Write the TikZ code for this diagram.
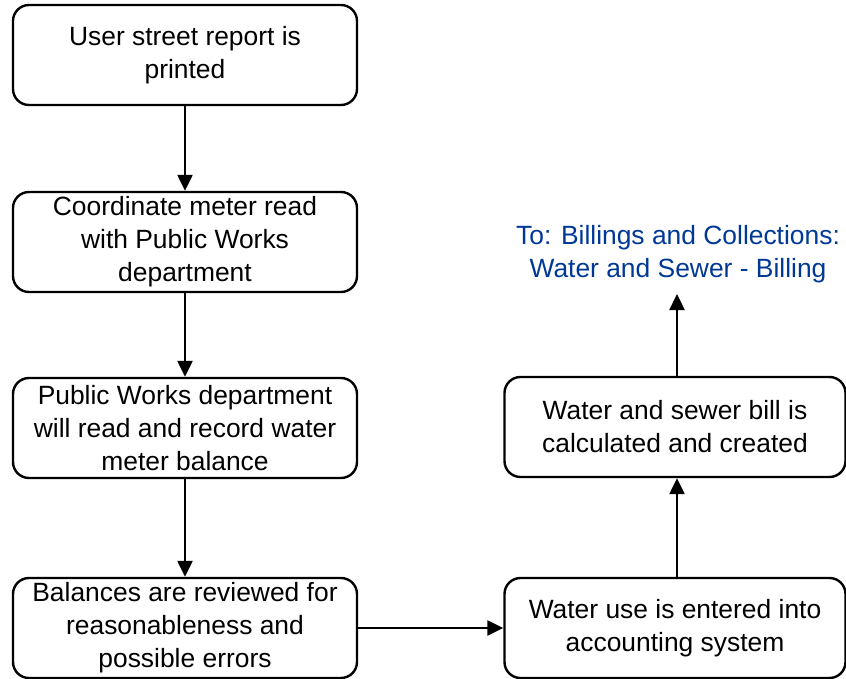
\documentclass[tikz,border=0pt]{standalone}
\usepackage{fontspec}
\setmainfont{Liberation Sans}
\usetikzlibrary{arrows.meta}
\definecolor{linkblue}{RGB}{0,56,150}
\tikzset{
  boxfont/.style={font=\fontsize{26.4}{33}\selectfont},
  stepbox/.style={draw=black, line width=2.4pt, rounded corners=16pt,
    minimum width=344pt, minimum height=100pt, align=center,
    boxfont, inner sep=0pt},
  flow/.style={line width=2.4pt, -{Triangle[length=16pt,width=15pt]}}
}
\begin{document}
\begin{tikzpicture}[x=1pt,y=-1pt]
  \useasboundingbox (0,0) rectangle (846,679);
  % left column
  \node[stepbox] (print) at (185,55) {User street report is\\printed};
  \node[stepbox] (coord) at (185,242) {Coordinate meter read\\with Public Works\\department};
  \node[stepbox] (read) at (185,428) {Public Works department\\will read and record water\\meter balance};
  \node[stepbox] (review) at (185,628) {Balances are reviewed for\\reasonableness and\\possible errors};
  % right column
  \node[stepbox, minimum width=341pt] (enter) at (675,628) {Water use is entered into\\accounting system};
  \node[stepbox, minimum width=341pt] (bill) at (675,427) {Water and sewer bill is\\calculated and created};
  \node[align=center, text=linkblue, boxfont] (dest) at (678,254)
    {To: Billings and Collections:\\Water and Sewer - Billing};
  \coordinate (destin) at (677,294);
  % connectors
  \draw[flow] (print) -- (coord);
  \draw[flow] (coord) -- (read);
  \draw[flow] (read) -- (review);
  \draw[flow] (review) -- (enter);
  \draw[flow] (enter.north -| destin) -- (bill.south -| destin);
  \draw[flow] (bill.north -| destin) -- (destin);
\end{tikzpicture}
\end{document}
